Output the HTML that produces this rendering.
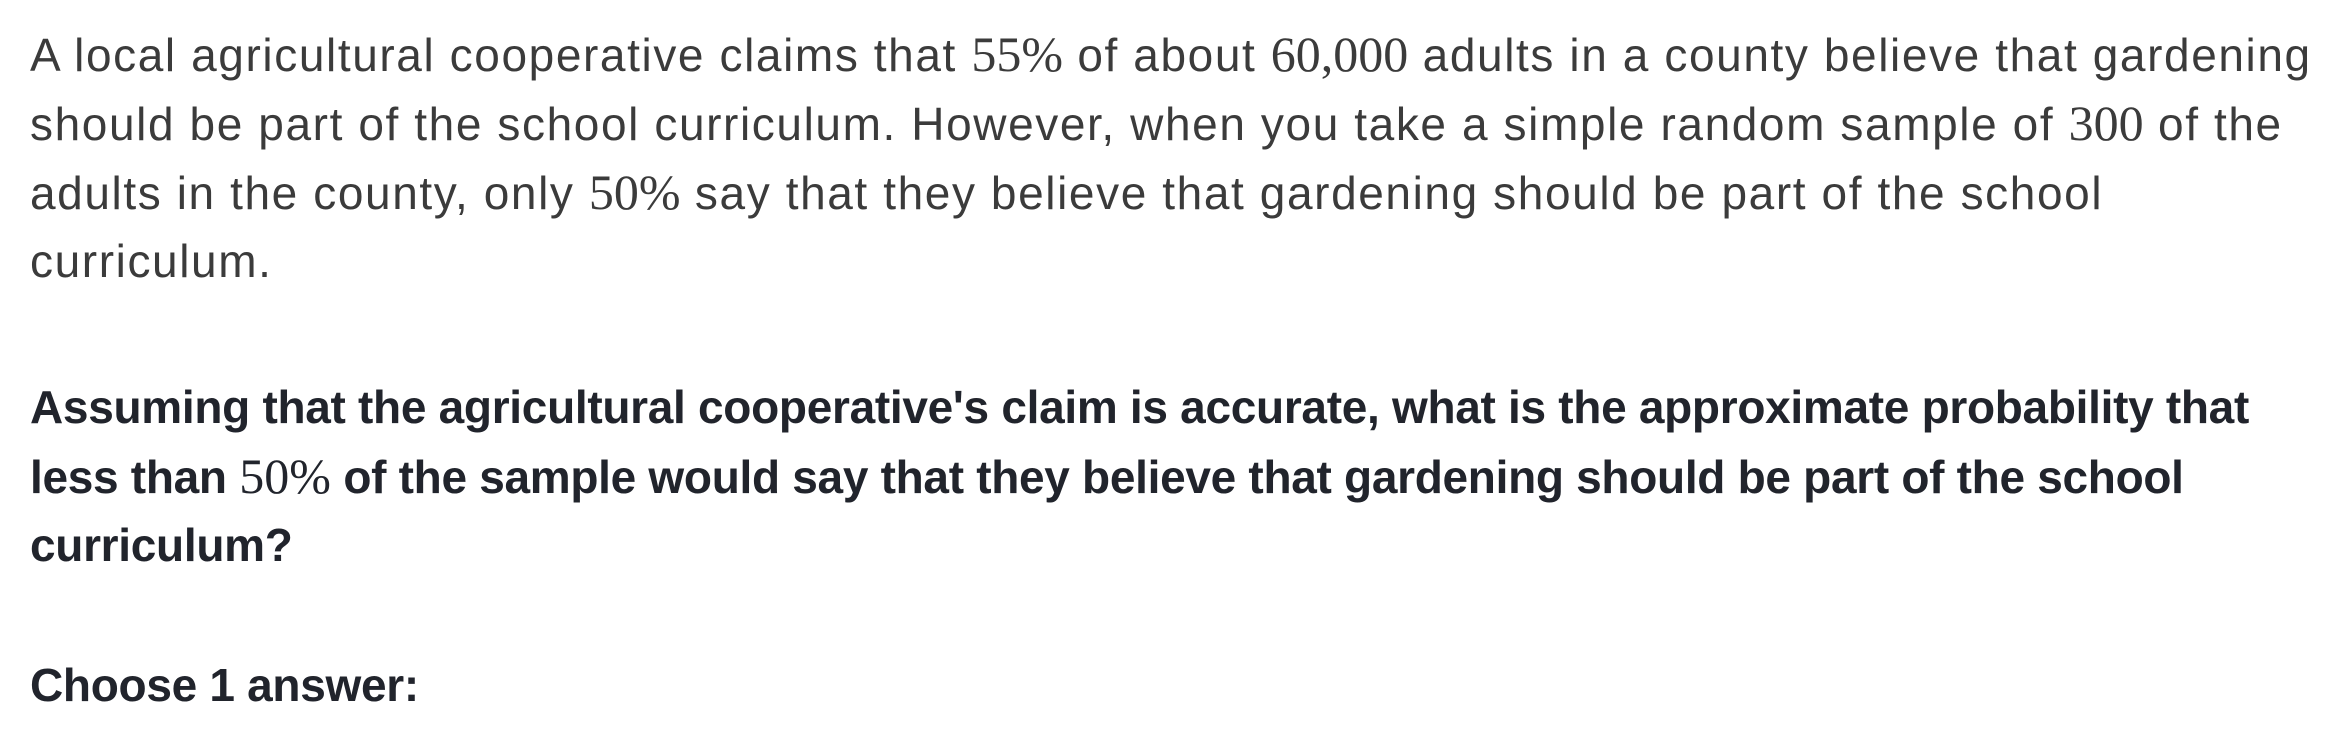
<!DOCTYPE html>
<html><head><meta charset="utf-8"><style>
body{margin:0;width:2346px;height:746px;background:#fff;overflow:hidden;font-family:"Liberation Sans",sans-serif;color:#3b3b3b;}
.p{position:absolute;left:30px;font-size:46px;line-height:69px;white-space:nowrap;letter-spacing:1.6px;}
.p div{height:69px}
.m{font-family:"Liberation Serif",serif;font-size:50px;letter-spacing:0}
.b{font-weight:bold;letter-spacing:-0.3px;color:#21242c}
</style></head><body>
<div class="p" style="top:20px">
<div>A local agricultural cooperative claims that <span class="m">55%</span> of about <span class="m">60,000</span> adults in a county believe that gardening</div>
<div>should be part of the school curriculum. However, when you take a simple random sample of <span class="m">300</span> of the</div>
<div>adults in the county, only <span class="m">50%</span> say that they believe that gardening should be part of the school</div>
<div>curriculum.</div>
</div>
<div class="p b" style="top:373px">
<div>Assuming that the agricultural cooperative's claim is accurate, what is the approximate probability that</div>
<div>less than <span class="m" style="font-weight:normal">50%</span> of the sample would say that they believe that gardening should be part of the school</div>
<div>curriculum?</div>
</div>
<div class="p b" style="top:651px">Choose 1 answer:</div>
</body></html>
